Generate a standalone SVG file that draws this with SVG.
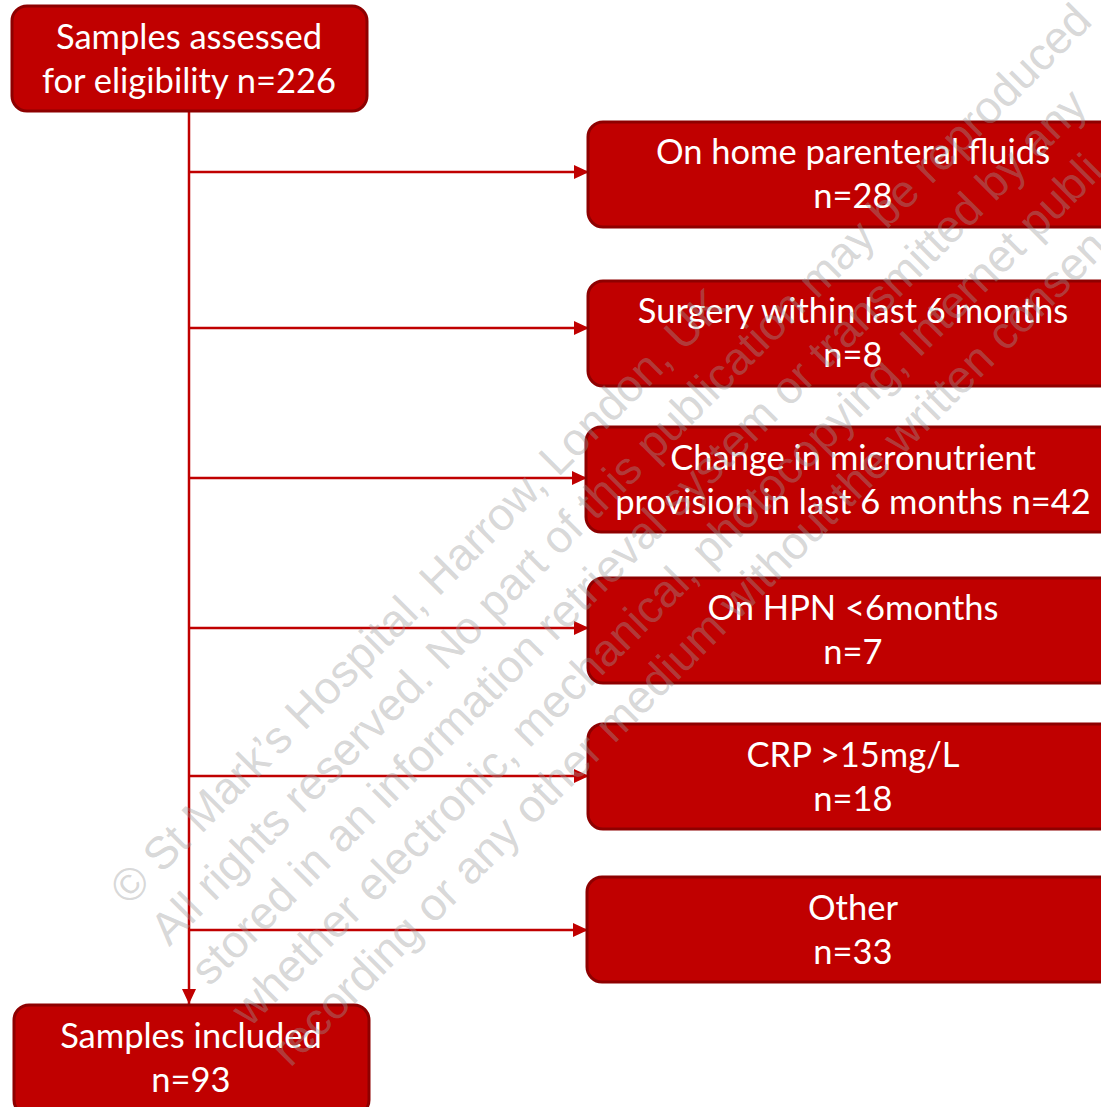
<svg xmlns="http://www.w3.org/2000/svg" width="1101" height="1107" viewBox="0 0 1101 1107">
<style>
.box{fill:#C00000;stroke:#8E0000;stroke-width:3}
.lbl{font-family:Lato,"Liberation Sans",sans-serif;font-size:34.5px;fill:#FFFFFF;text-anchor:middle}
.conn{stroke:#C00000;stroke-width:2.5;fill:none}
.wm{font-family:"Liberation Sans",Arial,sans-serif;font-size:45.5px;fill:#9a9a9a;fill-opacity:0.4}
</style>
<defs>
<marker id="ah" markerUnits="userSpaceOnUse" viewBox="0 0 15 14" refX="15" refY="7" markerWidth="15" markerHeight="14" orient="auto">
<path d="M0,0 L15,7 L0,14 z" fill="#C00000"/>
</marker>
</defs>
<rect width="1101" height="1107" fill="#FFFFFF"/>
<g id="connectors">
<line class="conn" x1="189" y1="111" x2="189" y2="1004" marker-end="url(#ah)"/>
<line class="conn" x1="190" y1="172" x2="589" y2="172" marker-end="url(#ah)"/>
<line class="conn" x1="190" y1="328" x2="589" y2="328" marker-end="url(#ah)"/>
<line class="conn" x1="190" y1="478" x2="587" y2="478" marker-end="url(#ah)"/>
<line class="conn" x1="190" y1="628" x2="589" y2="628" marker-end="url(#ah)"/>
<line class="conn" x1="190" y1="776" x2="589" y2="776" marker-end="url(#ah)"/>
<line class="conn" x1="190" y1="930" x2="588" y2="930" marker-end="url(#ah)"/>
</g>
<g id="n-assessed">
<rect class="box" x="12" y="6" width="355" height="105" rx="15"/>
<text class="lbl" x="189" y="49">Samples assessed</text>
<text class="lbl" x="189" y="93">for eligibility n=226</text>
</g>
<g id="n-hpf">
<rect class="box" x="588" y="122" width="540" height="105" rx="15"/>
<text class="lbl" x="853" y="164">On home parenteral fluids</text>
<text class="lbl" x="853" y="208">n=28</text>
</g>
<g id="n-surgery">
<rect class="box" x="588" y="281" width="540" height="105" rx="15"/>
<text class="lbl" x="853" y="323">Surgery within last 6 months</text>
<text class="lbl" x="853" y="367">n=8</text>
</g>
<g id="n-micro">
<rect class="box" x="586" y="427" width="540" height="105" rx="15"/>
<text class="lbl" x="853" y="470">Change in micronutrient</text>
<text class="lbl" x="853" y="514">provision in last 6 months n=42</text>
</g>
<g id="n-hpn">
<rect class="box" x="588" y="578" width="540" height="105" rx="15"/>
<text class="lbl" x="853" y="620">On HPN &lt;6months</text>
<text class="lbl" x="853" y="664">n=7</text>
</g>
<g id="n-crp">
<rect class="box" x="588" y="724" width="540" height="105" rx="15"/>
<text class="lbl" x="853" y="767">CRP &gt;15mg/L</text>
<text class="lbl" x="853" y="811">n=18</text>
</g>
<g id="n-other">
<rect class="box" x="587" y="877" width="540" height="105" rx="15"/>
<text class="lbl" x="853" y="920">Other</text>
<text class="lbl" x="853" y="964">n=33</text>
</g>
<g id="n-included">
<rect class="box" x="14" y="1005" width="355" height="110" rx="15"/>
<text class="lbl" x="191" y="1048">Samples included</text>
<text class="lbl" x="191" y="1092">n=93</text>
</g>
<g id="watermark" class="wm" transform="translate(129,907) rotate(-45)">
<text x="0" y="0">© St Mark’s Hospital, Harrow, London, UK</text>
<text x="0" y="57">All rights reserved. No part of this publication may be reproduced</text>
<text x="0" y="114">stored in an information retrieval system or transmitted by any</text>
<text x="0" y="171">whether electronic, mechanical, photocopying, Internet publi</text>
<text x="0" y="228">recording or any other medium without the written consen</text>
</g>
</svg>
